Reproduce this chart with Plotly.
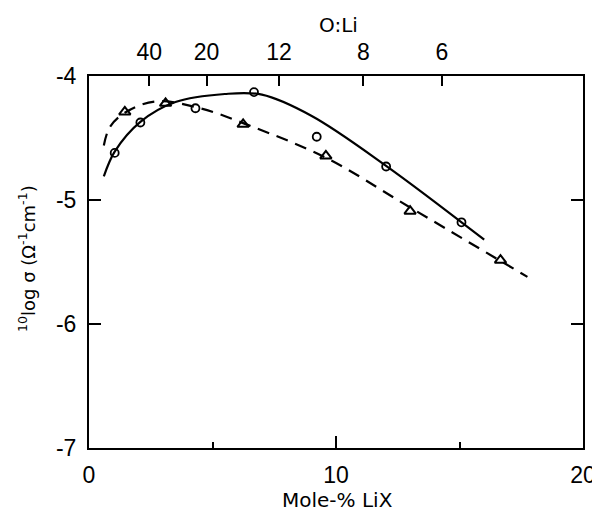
import plotly.graph_objects as go

# Data
circle_x = [1.04, 2.08, 4.31, 6.68, 9.22, 12.03, 15.08]
circle_y = [-4.62, -4.375, -4.26, -4.13, -4.49, -4.73, -5.18]

tri_x = [1.45, 3.10, 6.24, 9.59, 13.0, 16.66]
tri_y = [-4.29, -4.22, -4.39, -4.645, -5.09, -5.485]

solid_x = [0.6, 1.04, 2.08, 3.5, 5.5, 7.0, 9.0, 12.0, 16.0]
solid_y = [-4.81, -4.61, -4.37, -4.21, -4.145, -4.15, -4.32, -4.72, -5.32]

dash_x = [0.6, 0.85, 1.5, 2.7, 4.5, 6.5, 9.6, 13.0, 17.75]
dash_y = [-4.56, -4.41, -4.29, -4.205, -4.26, -4.40, -4.66, -5.06, -5.62]

oli_ratio = [40, 20, 12, 8, 6]
oli_pos = [100.0 / (n + 1) for n in oli_ratio]

x_ticks = [0, 10, 20]
y_ticks = [-4, -5, -6, -7]
y_ticktext = ["-4", "-5", "-6", "-7"]

TITLE_FONT = "DejaVu Sans"
TICK_FONT = "Liberation Sans Narrow, Liberation Sans, DejaVu Sans"
TICK_FS = 23

# page offset of the plot (browser body margin is 8px)
W, H = 592, 504
L, R, T, B = 81, 17, 68, 64
PW, PH = W - L - R, H - T - B

def px_x(page_x):
    return (page_x - 8 - L) / PW

def px_y(page_y):
    return (H - B - (page_y - 8)) / PH

fig = go.Figure()
fig.add_trace(go.Scatter(x=solid_x, y=solid_y, mode="lines", line=dict(color="black", width=2.2, shape="spline", smoothing=1.0), hoverinfo="skip"))
fig.add_trace(go.Scatter(x=dash_x, y=dash_y, mode="lines", line=dict(color="black", width=2.2, shape="spline", smoothing=1.0, dash="12px,8px"), hoverinfo="skip"))
fig.add_trace(go.Scatter(x=circle_x, y=circle_y, mode="markers", marker=dict(symbol="circle-open", size=8, color="black", line=dict(width=1.8, color="black"))))
fig.add_trace(go.Scatter(x=tri_x, y=tri_y, mode="markers", marker=dict(symbol="triangle-up-open", size=10, color="black", line=dict(width=2, color="black"))))
# invisible trace for the top axis
fig.add_trace(go.Scatter(x=[0, 20], y=[-7, -7], xaxis="x2", mode="markers", marker=dict(opacity=0), hoverinfo="skip"))

fig.update_layout(
    width=W, height=H,
    margin=dict(l=L, r=R, t=T, b=B),
    paper_bgcolor="white", plot_bgcolor="white",
    showlegend=False,
    font=dict(family=TITLE_FONT, size=20, color="black"),
    xaxis=dict(range=[0, 20], tickvals=x_ticks, ticks="inside", ticklen=12, tickwidth=2, tickcolor="black",
               showline=True, linewidth=2, linecolor="black", mirror=True, showgrid=False, zeroline=False,
               ticklabelstandoff=5, automargin=False, tickfont=dict(family=TICK_FONT, size=TICK_FS),
               minor=dict(tickvals=[5, 15], ticks="inside", ticklen=6, tickwidth=2, tickcolor="black", showgrid=False)),
    xaxis2=dict(range=[0, 20], overlaying="x", side="top", tickvals=oli_pos, ticktext=[str(n) for n in oli_ratio],
                ticks="inside", ticklen=10, tickwidth=2, tickcolor="black", showline=False, showgrid=False, zeroline=False,
                ticklabelstandoff=10, automargin=False, tickfont=dict(family=TICK_FONT, size=TICK_FS)),
    yaxis=dict(range=[-7, -4], tickvals=y_ticks, ticktext=y_ticktext,
               ticks="inside", ticklen=12, tickwidth=2, tickcolor="black",
               showline=True, linewidth=2, linecolor="black", mirror="ticks", showgrid=False, zeroline=False,
               ticklabelstandoff=6, automargin=False, tickfont=dict(family=TICK_FONT, size=TICK_FS)),
    annotations=[
        dict(text="Mole-% LiX", xref="paper", yref="paper", x=px_x(337), y=px_y(500), xanchor="center", yanchor="middle",
             showarrow=False, font=dict(family=TITLE_FONT, size=20)),
        dict(text="O:Li", xref="paper", yref="paper", x=px_x(338), y=px_y(25), xanchor="center", yanchor="middle",
             showarrow=False, font=dict(family=TITLE_FONT, size=20)),
        dict(text="<sup>10</sup>log \u03c3 (\u03a9<sup>-1</sup>cm<sup>-1</sup>)", xref="paper", yref="paper",
             x=px_x(27), y=px_y(259), xanchor="center", yanchor="middle", textangle=-90,
             showarrow=False, font=dict(family=TITLE_FONT, size=18)),
    ],
)
fig.write_html("out.html")
